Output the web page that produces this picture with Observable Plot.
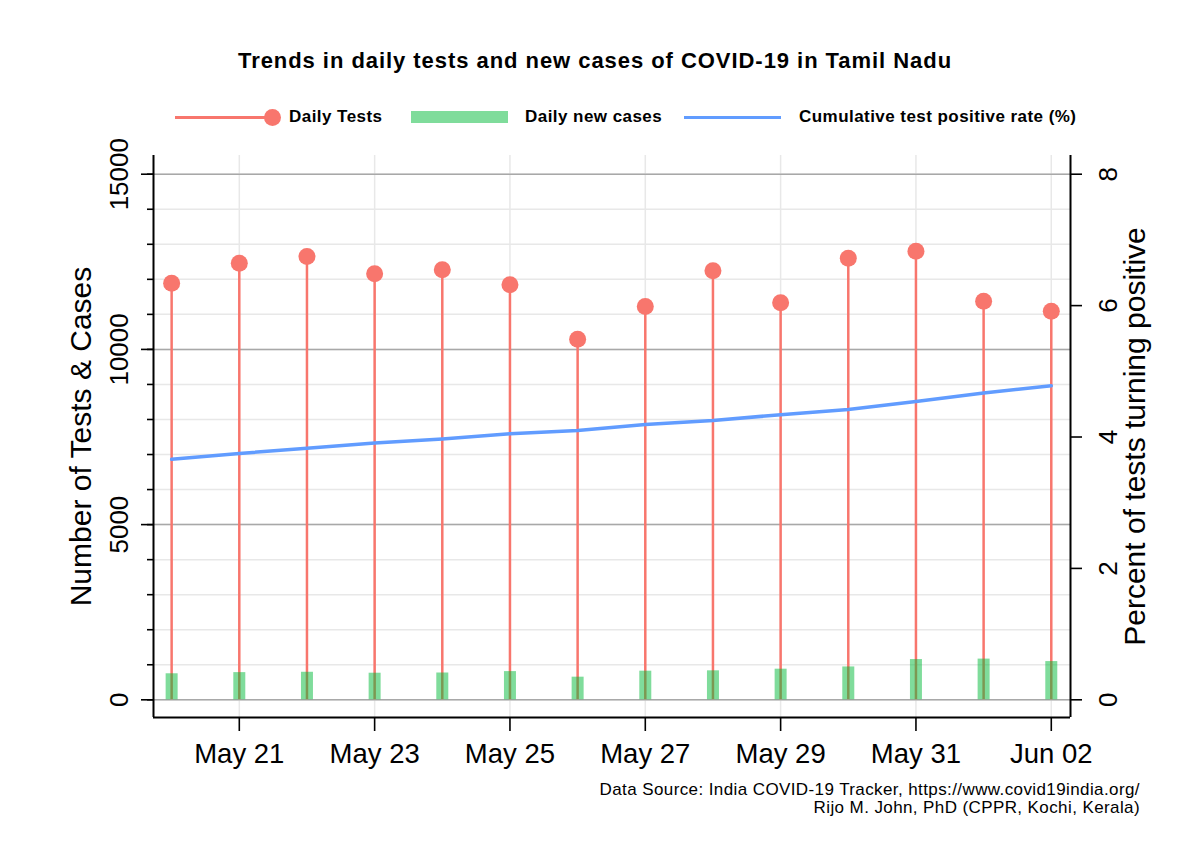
<!DOCTYPE html>
<html>
<head>
<meta charset="utf-8">
<script src="https://cdn.jsdelivr.net/npm/d3@7"></script>
<script src="https://cdn.jsdelivr.net/npm/@observablehq/plot@0.6"></script>
<style>
  body { margin: 0; background: #fff; font-family: "Liberation Sans", Arial, sans-serif; }
  #wrap { position: relative; width: 1190px; height: 866px; background: #fff; overflow: hidden; }
  #title { position: absolute; left: 0; width: 1190px; top: 46px; line-height: 30px; text-align: center;
           font-weight: bold; font-size: 22px; letter-spacing: 0.95px; color: #000; }
  .lg { position: absolute; }
  .lgtext { position: absolute; top: 107px; line-height: 20px; font-weight: bold; font-size: 17px; letter-spacing: 0.45px; color: #000; white-space: nowrap; }
  #chart { position: absolute; left: 0; top: 130px; }
  #caption { position: absolute; right: 50px; top: 781px; line-height: 18px; font-size: 17px; letter-spacing: 0.4px; text-align: right; color: #000; white-space: nowrap; }
</style>
</head>
<body>
<div id="wrap">
  <div id="title">Trends in daily tests and new cases of COVID-19 in Tamil Nadu</div>
  <div class="lg" style="left:175px; top:116px; width:96px; height:2.5px; background:#F8766D;"></div>
  <div class="lg" style="left:264px; top:108.5px; width:17px; height:17px; border-radius:50%; background:#F8766D;"></div>
  <div class="lgtext" style="left:289px;">Daily Tests</div>
  <div class="lg" style="left:411px; top:111px; width:97px; height:12px; background:#00BA38; opacity:0.5;"></div>
  <div class="lgtext" style="left:525px;">Daily new cases</div>
  <div class="lg" style="left:684px; top:115.5px; width:97px; height:3.5px; background:#619CFF;"></div>
  <div class="lgtext" style="left:799px;">Cumulative test positive rate (%)</div>
  <div id="chart"></div>
  <div id="caption">Data Source: India COVID-19 Tracker, https://www.covid19india.org/<br>Rijo M. John, PhD (CPPR, Kochi, Kerala)</div>
</div>
<script>
// ---- Data ----
const dates = ["2020-05-20","2020-05-21","2020-05-22","2020-05-23","2020-05-24","2020-05-25","2020-05-26",
               "2020-05-27","2020-05-28","2020-05-29","2020-05-30","2020-05-31","2020-06-01","2020-06-02"];
const dailyTests = [11889, 12460, 12651, 12158, 12272, 11844, 10291, 11224, 12243, 11330, 12603, 12803, 11376, 11090];
const dailyCases = [743, 776, 786, 759, 765, 805, 646, 817, 827, 874, 938, 1149, 1162, 1091];
const positiveRate = [3.66, 3.75, 3.83, 3.91, 3.97, 4.05, 4.10, 4.19, 4.25, 4.34, 4.42, 4.54, 4.67, 4.78];

const xTickDates = ["2020-05-21","2020-05-23","2020-05-25","2020-05-27","2020-05-29","2020-05-31","2020-06-02"];
const leftMajorTicks = [0, 5000, 10000, 15000];
const leftMinorTicks = [0,1000,2000,3000,4000,5000,6000,7000,8000,9000,10000,11000,12000,13000,14000,15000];
const rightTicks = [0, 2, 4, 6, 8];

const leftTitle = "Number of Tests & Cases";
const rightTitle = "Percent of tests turning positive";

// ---- Build ----
const DAY = 864e5;
const k = 15000 / 8; // right-axis (percent) to left-axis units
const data = dates.map((d, i) => ({
  date: new Date(d + "T00:00:00Z"),
  tests: dailyTests[i],
  cases: dailyCases[i],
  rateScaled: positiveRate[i] * k
}));
const xTicks = xTickDates.map(d => new Date(d + "T00:00:00Z"));
const xDomain = [new Date(data[0].date.getTime() - 0.268 * DAY),
                 new Date(data[data.length - 1].date.getTime() + 0.284 * DAY)];
const yDomain = [-505, 15534];

const font = "Liberation Sans, Arial, sans-serif";

const chart = Plot.plot({
  width: 1190,
  height: 642,
  marginLeft: 153,
  marginRight: 120,
  marginTop: 25,
  marginBottom: 55,
  style: { fontFamily: font, background: "white", color: "black", overflow: "visible" },
  x: { type: "utc", domain: xDomain },
  y: { domain: yDomain },
  marks: [
    Plot.gridY(leftMinorTicks, { stroke: "#e8e8e8", strokeOpacity: 1, strokeWidth: 1.5 }),
    Plot.gridX(xTicks, { stroke: "#e8e8e8", strokeOpacity: 1, strokeWidth: 1.5 }),
    Plot.gridY(leftMajorTicks, { stroke: "#a8a8a8", strokeOpacity: 1, strokeWidth: 1.5 }),
    Plot.ruleX(data, { x: "date", y1: 0, y2: "tests", stroke: "#F8766D", strokeWidth: 2.5 }),
    Plot.ruleX(data, { x: "date", y1: 0, y2: "cases", stroke: "#00BA38", strokeOpacity: 0.5, strokeWidth: 12 }),
    Plot.line(data, { x: "date", y: "rateScaled", stroke: "#619CFF", strokeWidth: 3.5 }),
    Plot.dot(data, { x: "date", y: "tests", r: 8.5, fill: "#F8766D", stroke: "none" }),
    // frame (left, right, bottom)
    Plot.ruleX(xDomain, { stroke: "black", strokeWidth: 2 }),
    Plot.ruleY([yDomain[0]], { stroke: "black", strokeWidth: 2 }),
    // axes
    Plot.axisY(leftMinorTicks, { anchor: "left", tickSize: 6, tickFormat: () => "", label: null, strokeWidth: 1.6 }),
    Plot.axisY(leftMajorTicks, { anchor: "left", tickSize: 12, tickPadding: 14, tickRotate: -90, fontSize: 26,
                                 tickFormat: d3.format("d"), label: null, strokeWidth: 1.6 }),
    Plot.axisY(rightTicks.map(v => v * k), { anchor: "right", tickSize: 11, tickPadding: 35, tickRotate: -90, fontSize: 26,
                                 tickFormat: d => String(Math.round(d / k)), label: null, strokeWidth: 1.6 }),
    Plot.axisX(xTicks, { anchor: "bottom", tickSize: 14, tickPadding: 12, fontSize: 27.5,
                         tickFormat: d3.utcFormat("%b %d"), label: null, strokeWidth: 1.6 }),
    Plot.text([leftTitle], { frameAnchor: "left", rotate: -90, dx: -72, fontSize: 30, textAnchor: "middle", text: d => d, fill: "black" }),
    Plot.text([rightTitle], { frameAnchor: "right", rotate: -90, dx: 65, fontSize: 30, textAnchor: "middle", text: d => d, fill: "black" })
  ]
});
document.getElementById("chart").appendChild(chart);
</script>
</body>
</html>
